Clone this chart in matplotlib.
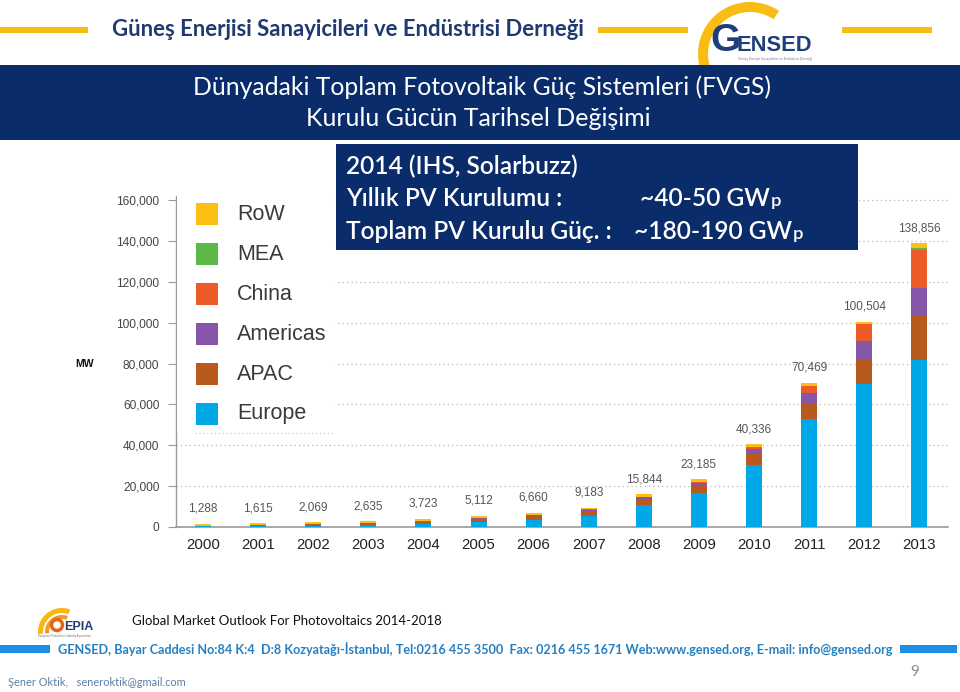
import matplotlib
matplotlib.use('Agg')
import matplotlib.pyplot as plt
from matplotlib.patches import Rectangle, Wedge, Circle
import numpy as np

# ---------------- data ----------------
years = ['2000', '2001', '2002', '2003', '2004', '2005', '2006',
         '2007', '2008', '2009', '2010', '2011', '2012', '2013']
europe = [129, 265, 399, 601, 1306, 2291, 3289, 5312, 10646, 16359, 30472, 52884, 70043, 81488]
apac = [368, 496, 686, 916, 1217, 1555, 1983, 2213, 2599, 3385, 4953, 7581, 12159, 21992]
americas = [21, 24, 72, 126, 242, 388, 551, 812, 1208, 1888, 2852, 5053, 8728, 13727]
china = [19, 24, 42, 52, 62, 70, 80, 100, 140, 300, 800, 3300, 8300, 18600]
mea = [0, 0, 0, 0, 1, 1, 1, 2, 3, 10, 25, 80, 205, 953]
row = [751, 806, 870, 940, 895, 807, 756, 744, 1248, 1243, 1234, 1571, 1069, 2096]
totals = [1288, 1615, 2069, 2635, 3723, 5112, 6660, 9183, 15844, 23185, 40336, 70469, 100504, 138856]
series_names = ['Europe', 'APAC', 'Americas', 'China', 'MEA', 'RoW']
series_values = [europe, apac, americas, china, mea, row]
series_colors = ['#00A8E8', '#B85A1E', '#8656A8', '#EC5A28', '#5CB848', '#FCC015']
yticks = [0, 20000, 40000, 60000, 80000, 100000, 120000, 140000, 160000]

header_title = 'Güneş Enerjisi Sanayicileri ve Endüstrisi Derneği'
band_line1 = 'Dünyadaki Toplam Fotovoltaik Güç Sistemleri (FVGS)'
band_line2 = 'Kurulu Gücün Tarihsel Değişimi'
info_line1 = '2014 (IHS, Solarbuzz)'
info_line2 = 'Yıllık PV Kurulumu :'
info_val2 = '~40-50 GW'
info_line3 = 'Toplam PV Kurulu Güç. :'
info_val3 = '~180-190 GW'
source_text = 'Global Market Outlook For Photovoltaics 2014-2018'
address_text = ('GENSED, Bayar Caddesi No:84 K:4  D:8 Kozyatağı-İstanbul, Tel:0216 455 3500  '
                'Fax: 0216 455 1671 Web:www.gensed.org, E-mail: info@gensed.org')
author_text = 'Şener Oktik,   seneroktik@gmail.com'

W, H = 960, 692
NAVY = '#0B2C6A'
YELLOW = '#F8BC12'
CAL = ['Lato', 'DejaVu Sans']
HELV = ['Liberation Sans', 'DejaVu Sans']

fig = plt.figure(figsize=(W / 100, H / 100), dpi=100)
fig.patch.set_facecolor('white')
renderer = fig.canvas.get_renderer()

# ---------------- chart ----------------
base_px = 526.7
px_per_unit = 2.04 / 1000.0
ytop = 162000
ax = fig.add_axes([176 / W, (H - base_px) / H, 772 / W, ytop * px_per_unit / H])
x = np.arange(len(years))
bottom = np.zeros(len(years))
for name, vals, col in zip(series_names, series_values, series_colors):
    v = np.array(vals, dtype=float)
    ax.bar(x, v, width=0.29, bottom=bottom, color=col, zorder=3, linewidth=0)
    bottom += v
ax.set_xlim(-0.49, 13.52)
ax.set_ylim(0, ytop)
ax.set_yticks(yticks)
ax.set_yticklabels([f'{v:,}' for v in yticks], fontsize=8.6, color='#444444', family=HELV)
ax.set_xticks(x)
ax.set_xticklabels(years, fontsize=10.8, color='#222222', family=HELV)
ax.tick_params(axis='y', length=6, width=0.8, color='#999999', pad=6)
ax.tick_params(axis='x', length=0, pad=8)
ax.yaxis.grid(True, linestyle=(0, (1, 2.5)), color='#b5b5b5', linewidth=0.9, zorder=0)
ax.set_axisbelow(True)
for s in ['top', 'right']:
    ax.spines[s].set_visible(False)
ax.spines['left'].set_color('#999999')
ax.spines['left'].set_linewidth(1.0)
ax.spines['bottom'].set_color('#999999')
ax.spines['bottom'].set_linewidth(1.2)
for xi, t in zip(x, totals):
    ax.annotate(f'{t:,}', (xi, t), xytext=(0, 11), textcoords='offset points',
                ha='center', va='center', fontsize=8.5, color='#555555', family=HELV)

# ---------------- overlay in pixel coordinates ----------------
ov = fig.add_axes([0, 0, 1, 1])
ov.set_xlim(0, W)
ov.set_ylim(H, 0)
ov.axis('off')
ov.set_zorder(5)
ov.patch.set_alpha(0)


def fit(x0, x1, y, s, ref=10, va='center', **kw):
    t = ov.text(x0, y, s, fontsize=ref, va=va, ha='left', **kw)
    bb = t.get_window_extent(renderer)
    t.set_fontsize(ref * (x1 - x0) / bb.width)
    return t


# legend box
ov.add_patch(Rectangle((177, 186), 158, 246, facecolor='white', edgecolor='none'))
ov.plot([195, 335], [433, 433], linestyle=(0, (1, 2.5)), color='#c8c8c8', lw=0.8)
for i, (name, col) in enumerate(zip(series_names[::-1], series_colors[::-1])):
    cy = 214 + 40 * i
    ov.add_patch(Rectangle((196, cy - 11), 22, 22, facecolor=col, edgecolor='none'))
    ov.text(237, cy, name, fontsize=15.5, color='#3a3a3a', va='center', ha='left', family=HELV)
ov.text(85, 364, 'MW', fontsize=7.5, fontweight='bold', color='#111111', va='center', ha='center', family=HELV)

# header
ov.add_patch(Rectangle((0, 27), 88, 6, facecolor=YELLOW, edgecolor='none'))
ov.add_patch(Rectangle((598, 27), 90, 6, facecolor=YELLOW, edgecolor='none'))
ov.add_patch(Rectangle((842, 27), 90, 6, facecolor=YELLOW, edgecolor='none'))
fit(112, 585, 30, header_title, fontweight='bold', color='#1F3A6E', family=CAL)

# GENSED logo
ov.add_patch(Wedge((750, 54), 52, -200, -56, width=10, facecolor=YELLOW, edgecolor='none'))
ov.text(710, 51, 'G', fontsize=28, fontweight='bold', color='#1F3F7A', va='baseline', ha='left', family=HELV)
fit(737, 812, 51, 'ENSED', va='baseline', fontweight='bold', color='#1F3F7A', family=HELV)
fit(738, 812, 59, header_title, color='#7a7a9a', family=CAL)

# title band
ov.add_patch(Rectangle((0, 65), W, 75, facecolor=NAVY, edgecolor='none'))
fit(193, 771, 87, band_line1, color='white', family=CAL)
fit(306, 651, 119, band_line2, color='white', family=CAL)

# info box
ov.add_patch(Rectangle((336, 144), 522, 106, facecolor=NAVY, edgecolor='none'))
t1 = fit(346, 577, 174, info_line1, va='baseline', color='white', family=CAL, fontweight='semibold')
fs = t1.get_fontsize()
ov.text(346, 206, info_line2, fontsize=fs, va='baseline', ha='left', color='white', family=CAL, fontweight='semibold')
ov.text(346, 239, info_line3, fontsize=fs, va='baseline', ha='left', color='white', family=CAL, fontweight='semibold')
for xv, yv, s in [(640, 206, info_val2), (634, 239, info_val3)]:
    tv = ov.text(xv, yv, s, fontsize=fs, va='baseline', ha='left', color='white', family=CAL, fontweight='semibold')
    bb = tv.get_window_extent(renderer)
    ov.text(bb.x1 + 1, yv, 'p', fontsize=fs * 0.75, va='baseline', ha='left', color='white', family=CAL, fontweight='semibold')

# EPIA logo + source
ov.add_patch(Wedge((62, 632), 24, -185, -70, width=5, facecolor='#F9B712', edgecolor='none'))
ov.add_patch(Wedge((62, 632), 17, -185, -70, width=4, facecolor='#F39A1E', edgecolor='none'))
ov.add_patch(Circle((57, 625), 5.5, facecolor='none', edgecolor='#E8641B', lw=2.5))
fit(64, 93, 627, 'EPIA', fontweight='bold', color='#1F3F7A', family=HELV)
fit(38, 92, 636, 'European Photovoltaic Industry Association', color='#777777', family=HELV)
fit(132, 441, 621, source_text, color='#111111', family=CAL)

# address line
ov.add_patch(Rectangle((0, 645), 50, 8, facecolor='#1A8FE3', edgecolor='none'))
ov.add_patch(Rectangle((900, 645), 57, 8, facecolor='#1A8FE3', edgecolor='none'))
fit(58, 893, 649, address_text, fontweight='bold', color='#2580C3', family=CAL)

ov.text(915, 672, '9', fontsize=11, color='#8a8a8a', va='center', ha='center', family=CAL)
fit(8, 185, 683, author_text, color='#5B7FA6', family=CAL)

fig.savefig('out.png', dpi=100, facecolor='white')
